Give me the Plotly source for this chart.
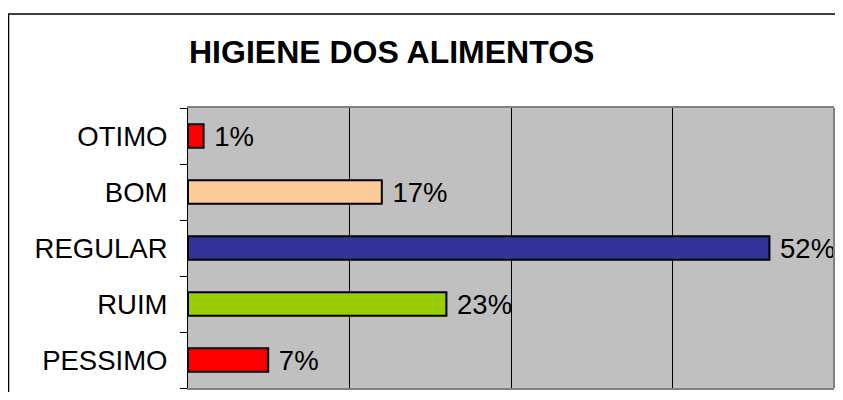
import plotly.graph_objects as go

categories = ["PESSIMO", "RUIM", "REGULAR", "BOM", "OTIMO"]
values = [0.072, 0.232, 0.522, 0.174, 0.014]
colors = ["#FF0000", "#99CC00", "#333399", "#FFCC99", "#FF0000"]
labels = [" {}%".format(round(v * 100)) for v in values]
title_text = "HIGIENE DOS ALIMENTOS"

OFF = 8  # default page body margin
W, H = 843 - 2 * OFF, 400 - 2 * OFF
L, R, T, B = 188 - OFF, 1, 108 - OFF, H - (388 - OFF)
pw, ph = W - L - R, H - T - B

def px_x(px):
    return (px - OFF - L) / pw

def px_y(py):
    return (H - B - (py - OFF)) / ph

FONT = "Liberation Sans, Arial"

fig = go.Figure()
fig.add_trace(go.Bar(
    y=categories, x=values, orientation="h",
    marker=dict(color=colors, line=dict(color="black", width=2)),
    width=0.42,
    text=labels, textposition="outside", cliponaxis=False,
    constraintext="none",
    textfont=dict(family=FONT, size=27.5, color="black"),
    hoverinfo="skip",
))

fig.update_layout(
    width=W, height=H,
    margin=dict(l=L, r=R, t=T, b=B),
    paper_bgcolor="white", plot_bgcolor="#C0C0C0",
    showlegend=False,
    font=dict(family=FONT, color="black"),
)
fig.update_xaxes(
    range=[0, 0.58], tick0=0, dtick=0.145, showticklabels=False,
    showgrid=True, gridcolor="black", gridwidth=1, zeroline=False,
    showline=True, linecolor="#808080", linewidth=2, mirror=True, ticks="",
    fixedrange=True,
)
fig.update_yaxes(
    categoryorder="array", categoryarray=categories,
    showline=True, linecolor="black", linewidth=1,
    ticks="outside", tickson="boundaries", ticklen=7, tickcolor="black",
    tickfont=dict(family=FONT, size=27.5, color="black"),
    ticklabelstandoff=14, showgrid=False, fixedrange=True,
)
# right border of plot area
fig.add_shape(type="line", xref="x domain", yref="y domain",
              x0=1, x1=1, y0=0, y1=1, line=dict(color="#808080", width=2))
# outer chart frame
fig.add_shape(type="rect", xref="paper", yref="paper",
              x0=px_x(8.5), x1=px_x(870), y0=px_y(430), y1=px_y(14),
              line=dict(color="black", width=1.5), fillcolor="rgba(0,0,0,0)")
fig.add_annotation(
    text="<b>" + title_text + "</b>", xref="paper", yref="paper",
    x=px_x(187), y=px_y(52), xanchor="left", yanchor="middle",
    showarrow=False, font=dict(family=FONT, size=32, color="black"),
)
fig.write_html("out.html")
